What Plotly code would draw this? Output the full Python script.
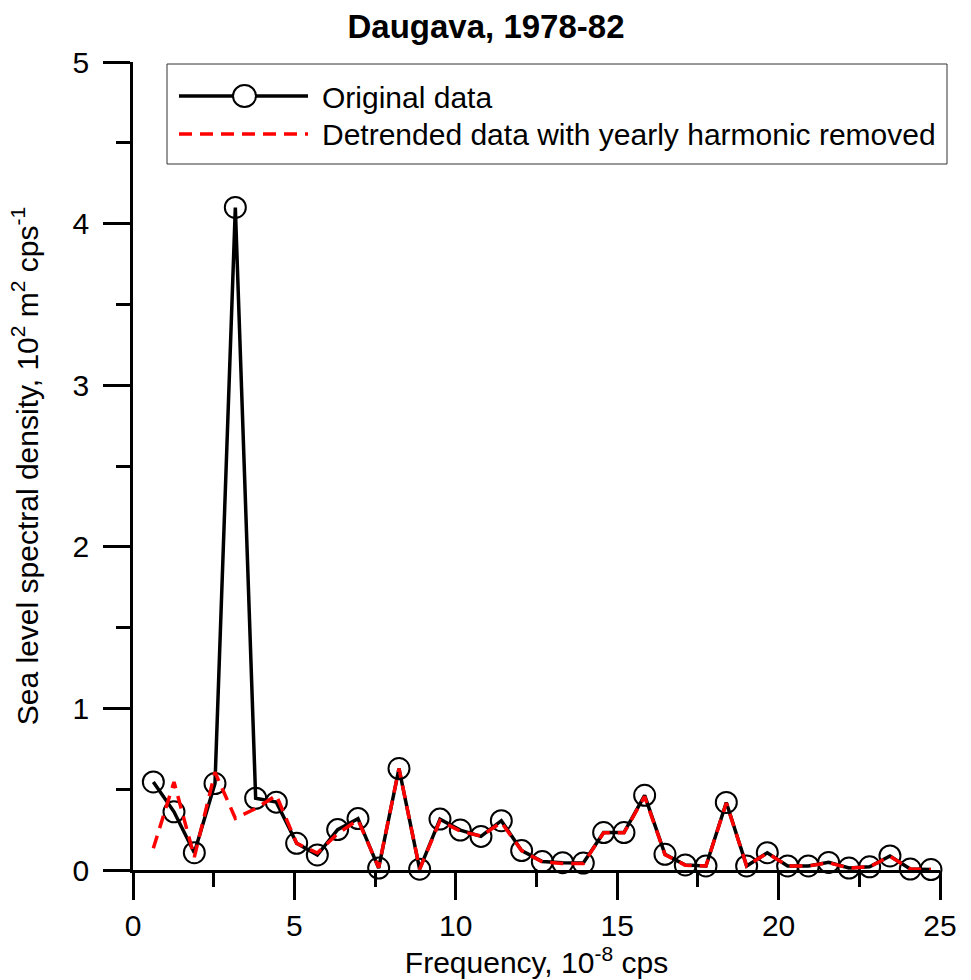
import plotly.graph_objects as go

# ---------------- data ----------------
freq = [0.63, 1.27, 1.90, 2.54, 3.17, 3.80, 4.44, 5.07, 5.71, 6.34, 6.97, 7.61, 8.24,
        8.88, 9.51, 10.14, 10.78, 11.41, 12.04, 12.68, 13.31, 13.95, 14.58, 15.21,
        15.85, 16.48, 17.11, 17.75, 18.38, 19.01, 19.65, 20.28, 20.92, 21.55, 22.18,
        22.82, 23.45, 24.08, 24.72]
original = [0.545, 0.36, 0.107, 0.535, 4.10, 0.444, 0.420, 0.165, 0.093, 0.250, 0.318,
            0.012, 0.628, 0.005, 0.315, 0.247, 0.208, 0.305, 0.120, 0.052, 0.045, 0.043,
            0.232, 0.232, 0.462, 0.097, 0.031, 0.025, 0.418, 0.025, 0.107, 0.025, 0.025,
            0.047, 0.012, 0.020, 0.087, 0.006, 0.003]
detrended = [0.135, 0.545, 0.08, 0.605, 0.32, 0.38, 0.462, 0.165, 0.105, 0.225, 0.31,
             0.015, 0.628, 0.005, 0.305, 0.24, 0.21, 0.295, 0.12, 0.05, 0.04, 0.04,
             0.23, 0.23, 0.455, 0.095, 0.03, 0.025, 0.415, 0.025, 0.105, 0.025, 0.025,
             0.045, 0.012, 0.02, 0.085, 0.006, 0.003]
x_ticks = [0, 5, 10, 15, 20, 25]
y_ticks = [0, 1, 2, 3, 4, 5]
title_text = "<b>Daugava, 1978-82</b>"
x_title = "Frequency, 10<sup>-8</sup> cps"
y_title = "Sea level spectral density, 10<sup>2</sup> m<sup>2</sup> cps<sup>-1</sup>"
legend_names = ["Original data", "Detrended data with yearly harmonic removed"]

# ---------------- layout constants ----------------
W, H = 971, 980
L, R, T, B = 133, 31, 62, 110
PW, PH = W - L - R, H - T - B
FONT = "Liberation Sans, Arial, Helvetica, sans-serif"
FS = 30
DASH = "13px,8px"


def px(xp):
    return (xp - L) / PW


def py(yp):
    return (H - B - yp) / PH


fig = go.Figure()
fig.add_trace(go.Scatter(
    x=freq, y=original, mode="lines+markers", name=legend_names[0],
    line=dict(color="black", width=3.5),
    marker=dict(symbol="circle-open", size=21, color="black", line=dict(width=2)),
    showlegend=False, cliponaxis=False))
fig.add_trace(go.Scatter(
    x=freq, y=detrended, mode="lines", name=legend_names[1],
    line=dict(color="#ff0000", width=3.5, dash=DASH),
    showlegend=False, cliponaxis=False))

# custom legend (box, samples, labels)
shapes = [
    dict(type="rect", xref="paper", yref="paper", x0=px(167), x1=px(947), y0=py(164), y1=py(64),
         line=dict(color="#333333", width=1), fillcolor="rgba(255,255,255,0)"),
    dict(type="line", xref="paper", yref="paper", x0=px(179), x1=px(308), y0=py(96), y1=py(96),
         line=dict(color="black", width=3.5)),
    dict(type="circle", xref="paper", yref="paper", x0=px(233), x1=px(256), y0=py(107), y1=py(85),
         line=dict(color="black", width=2), fillcolor="white"),
    dict(type="line", xref="paper", yref="paper", x0=px(179), x1=px(308), y0=py(134), y1=py(134),
         line=dict(color="#ff0000", width=3.5, dash=DASH)),
]
annotations = [
    dict(text=legend_names[0], xref="paper", yref="paper", x=px(320), y=py(97),
         xanchor="left", yanchor="middle", showarrow=False, font=dict(size=FS, color="black", family=FONT)),
    dict(text=legend_names[1], xref="paper", yref="paper", x=px(320), y=py(135),
         xanchor="left", yanchor="middle", showarrow=False, font=dict(size=FS, color="black", family=FONT)),
]

fig.update_layout(
    width=W, height=H,
    margin=dict(l=L, r=R, t=T, b=B, pad=0, autoexpand=False),
    paper_bgcolor="white", plot_bgcolor="white",
    font=dict(family=FONT, size=FS, color="black"),
    title=dict(text=title_text, x=486 / W, xref="container", xanchor="center",
               y=1 - 26 / H, yref="container", yanchor="middle",
               font=dict(size=33, family=FONT, color="black")),
    shapes=shapes, annotations=annotations,
    showlegend=False,
)

fig.update_xaxes(
    range=[0, 25], tickvals=x_ticks, ticktext=[str(v) for v in x_ticks], automargin=False,
    showgrid=False, zeroline=False, showline=True, linecolor="black", linewidth=2.5,
    ticks="outside", ticklen=27, tickwidth=2.5, tickcolor="black",
    minor=dict(tickvals=[2.5, 7.5, 12.5, 17.5, 22.5], ticks="outside", ticklen=14,
               tickwidth=2.5, tickcolor="black", showgrid=False),
    tickfont=dict(size=FS, family=FONT, color="black"),
    title=dict(text=x_title, font=dict(size=FS, family=FONT, color="black"), standoff=8),
    fixedrange=True,
)
fig.update_yaxes(
    range=[0, 5], tickvals=y_ticks, ticktext=[str(v) for v in y_ticks], automargin=False,
    showgrid=False, zeroline=False, showline=True, linecolor="black", linewidth=2.5,
    ticks="outside", ticklen=27, tickwidth=2.5, tickcolor="black", ticklabelstandoff=8,
    minor=dict(tickvals=[0.5, 1.5, 2.5, 3.5, 4.5], ticks="outside", ticklen=14,
               tickwidth=2.5, tickcolor="black", showgrid=False),
    tickfont=dict(size=FS, family=FONT, color="black"),
    title=dict(text=y_title, font=dict(size=FS, family=FONT, color="black"), standoff=26),
    fixedrange=True,
)

fig.write_html("out.html")
